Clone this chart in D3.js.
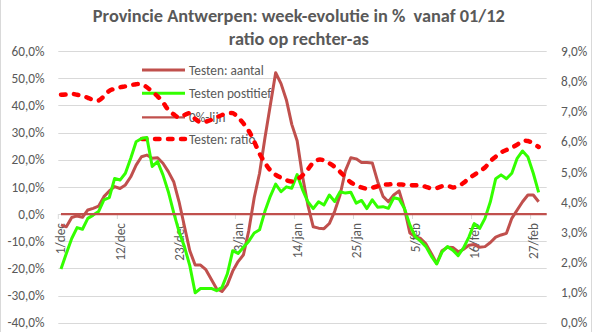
<!DOCTYPE html>
<html>
<head>
<meta charset="utf-8">
<script src="https://cdn.jsdelivr.net/npm/d3@7"></script>
<style>
  html, body { margin: 0; padding: 0; background: #fff; }
  svg { display: block; }
  text { font-family: Carlito, Lato, "Liberation Sans", Arial, sans-serif; fill: #595959; }
</style>
</head>
<body>
<svg id="chart" width="593" height="332"></svg>
<script>
// ---------- data ----------
const titleLines = ["Provincie Antwerpen: week-evolutie in %  vanaf 01/12", "ratio op rechter-as"];
const startDate = "2020-12-01";
const categoryCount = 91; // 1/dec .. 1/mar
const tickLabels = ["1/dec", "12/dec", "23/dec", "3/jan", "14/jan", "25/jan", "5/feb", "16/feb", "27/feb"];
const tickIndex = [0, 11, 22, 33, 44, 55, 66, 77, 88];
const leftTicks = [-40, -30, -20, -10, 0, 10, 20, 30, 40, 50, 60];
const rightTicks = [0, 1, 2, 3, 4, 5, 6, 7, 8, 9];
const seriesNames = ["Testen: aantal", "Testen postitief", "0%-lijn", "Testen: ratio"];

// week-evolutie in % (left axis)
const testenAantal = [
  -4, -4.7, -1.3, -0.7, -1.2, 1.5, 2.1, 2.9, 6.4, 8.5,
  10.1, 9.4, 10.7, 13.7, 18, 21.1, 21.7, 20.5, 20.7, 18.7,
  15.6, 11.9, 4.5, -4.5, -13.5, -18.8, -18.8, -20.5, -24, -27.5,
  -28.5, -26, -21, -17.5, -15, -6, 6, 15, 28, 40,
  52, 48, 42, 33, 27, 14, 3.3, -4.7, -5.2, -5.4,
  -3.5, 1, 7, 16, 20.7, 20.3, 19, 19, 18.8, 12,
  6.5, 4.5, 7, 8.5, 2, -7, -8.3, -9, -11, -14.5,
  -18.2, -13.5, -12.2, -12.3, -13.9, -13, -11.5, -11.2, -12.2, -12,
  -10.5, -8.5, -7.7, -7.1, -1.6, 1.5, 4.5, 7, 7, 4.5
];
const testenPositief = [
  -20.2, -14.5, -9, -5, -5.6, -1.6, -0.4, 0.9, 5.2, 6,
  13.1, 12.5, 15, 20.5, 26.6, 27.8, 28.2, 17.5, 19.3, 14.4,
  8.2, 0.5, -6.5, -12, -19, -29, -27.4, -27.4, -27.4, -28.2,
  -27, -22, -13.5, -14.5, -12.2, -10, -7, -5.8, 1, 6.5,
  11, 8.2, 10, 9.5, 14.5, 9, 4.5, 2, 4.5, 3.3,
  7, 4.6, 8.2, 7.7, 8, 4, 5, 2, 5.2, 2.5,
  2.7, 2.1, 6, 5.5, 2, -4, -8.3, -10, -12, -15.5,
  -18.4, -14, -12, -13.3, -15.3, -12.5, -8.5, -3.5, -5.3, -1.6,
  4.5, 13, 14.4, 13, 15, 20.5, 23.2, 21, 15, 8
];
const zeroLineValue = 0;
// ratio in % (right axis)
const testenRatio = [
  7.55, 7.56, 7.58, 7.55, 7.52, 7.45, 7.38, 7.36, 7.5, 7.68,
  7.75, 7.8, 7.83, 7.87, 7.9, 7.9, 7.8, 7.65, 7.5, 7.3,
  7.05, 6.9, 6.8, 6.88, 6.94, 6.75, 6.64, 6.66, 6.72, 6.8,
  6.88, 6.93, 6.94, 6.8, 6.6, 6.35, 6.0, 5.6, 5.3, 5.05,
  4.9, 4.8, 4.72, 4.68, 4.75, 4.88, 5.08, 5.3, 5.4, 5.38,
  5.28, 5.16, 5.0, 4.82, 4.65, 4.55, 4.48, 4.44, 4.47, 4.52,
  4.57, 4.58, 4.59, 4.58, 4.57, 4.56, 4.55, 4.55, 4.5, 4.45,
  4.46, 4.52, 4.54, 4.48, 4.52, 4.63, 4.78, 4.9, 5.02, 5.14,
  5.35, 5.5, 5.64, 5.72, 5.8, 5.9, 6.02, 6.02, 5.93, 5.82
];

// ---------- drawing ----------
const svg = d3.select("#chart");
const W = 593, H = 332;
const plot = { left: 58.3, right: 546.7, top: 51, bottom: 322.7 };

const colAantal = "#C0504D", colPos = "#33FF00", colZero = "#C0504D", colRatio = "#FF0000";
const gridCol = "#D9D9D9";

const x = d3.scaleBand().domain(d3.range(categoryCount)).range([plot.left, plot.right]).paddingInner(0).paddingOuter(0);
const cx = i => x(i) + x.bandwidth() / 2;
const yL = d3.scaleLinear().domain([-40, 60]).range([plot.bottom, plot.top]);
const yR = d3.scaleLinear().domain([0, 9]).range([plot.bottom, plot.top]);

const fmt = v => v.toFixed(1).replace(".", ",") + "%";

// chart border (sides)
svg.append("line").attr("x1", 0.5).attr("x2", 0.5).attr("y1", 0).attr("y2", H).attr("stroke", gridCol);
svg.append("line").attr("x1", 591.5).attr("x2", 591.5).attr("y1", 0).attr("y2", H).attr("stroke", gridCol);

// fit text helper
function fit(sel, target, size) {
  sel.attr("font-size", size);
  const w = sel.node().getComputedTextLength();
  if (w > 0) sel.attr("font-size", size * target / w);
  return sel;
}

// title
const t1 = svg.append("text").attr("x", 298.8).attr("y", 22).attr("text-anchor", "middle")
  .attr("font-weight", "bold").style("white-space", "pre").text(titleLines[0]);
t1.attr("xml:space", "preserve");
fit(t1, 412, 18);
const t2 = svg.append("text").attr("x", 298.8).attr("y", 45).attr("text-anchor", "middle")
  .attr("font-weight", "bold").text(titleLines[1]);
t2.attr("font-size", t1.attr("font-size"));

// gridlines (left axis)
svg.append("g").selectAll("line").data(leftTicks).join("line")
  .attr("x1", plot.left).attr("x2", plot.right)
  .attr("y1", d => Math.round(yL(d)) + 0.5).attr("y2", d => Math.round(yL(d)) + 0.5)
  .attr("stroke", gridCol).attr("stroke-width", 1);

// left axis labels
const axL = d3.axisLeft(yL).tickValues(leftTicks).tickFormat(fmt).tickSize(0).tickPadding(0);
const gL = svg.append("g").attr("transform", "translate(44.5,0)").call(axL);
gL.select(".domain").remove();
gL.selectAll("text").attr("fill", "#595959").attr("font-family", null).attr("font-size", 13.3);

// right axis labels
const axR = d3.axisRight(yR).tickValues(rightTicks).tickFormat(fmt).tickSize(0).tickPadding(0);
const gR = svg.append("g").attr("transform", "translate(561,0)").call(axR);
gR.select(".domain").remove();
gR.selectAll("text").attr("fill", "#595959").attr("font-family", null).attr("font-size", 13.3);

// x axis at 0%: tick marks and rotated labels
const y0 = yL(0);
svg.append("g").selectAll("line").data(tickIndex).join("line")
  .attr("x1", i => x(i)).attr("x2", i => x(i))
  .attr("y1", y0).attr("y2", y0 + 5)
  .attr("stroke", gridCol).attr("stroke-width", 1);
svg.append("g").selectAll("text").data(tickIndex).join("text")
  .attr("transform", (i) => `translate(${cx(i) + 4.5},${y0 + 9}) rotate(-90)`)
  .attr("text-anchor", "end").attr("font-size", 13.3)
  .text((i, k) => tickLabels[k]);

// legend (drawn beneath the series)
const legY = [70, 93.3, 117.3, 139];
const legStyles = [
  { c: colAantal, w: 3, dash: null },
  { c: colPos, w: 3, dash: null },
  { c: colZero, w: 2.25, dash: null },
  { c: colRatio, w: 4.5, dash: "4.5 8.5" }
];
const leg = svg.append("g");
seriesNames.forEach((n, k) => {
  const s = legStyles[k];
  const l = leg.append("line").attr("x1", 142).attr("x2", 185).attr("y1", legY[k]).attr("y2", legY[k])
    .attr("stroke", s.c).attr("stroke-width", s.w);
  if (s.dash) l.attr("stroke-dasharray", s.dash).attr("stroke-linecap", "round");
  leg.append("text").attr("x", 189).attr("y", legY[k]).attr("dy", "0.35em").attr("font-size", 13.3).text(n);
});

// series
const lineL = d3.line().x((d, i) => cx(i)).y(d => yL(d));
const lineR = d3.line().x((d, i) => cx(i)).y(d => yR(d)).curve(d3.curveCatmullRom.alpha(0.5));

svg.append("path").datum(testenAantal).attr("d", lineL).attr("fill", "none")
  .attr("stroke", colAantal).attr("stroke-width", 3).attr("stroke-linejoin", "round");
svg.append("path").datum(testenPositief).attr("d", lineL).attr("fill", "none")
  .attr("stroke", colPos).attr("stroke-width", 3).attr("stroke-linejoin", "round");
svg.append("line").attr("x1", cx(0)).attr("x2", plot.right).attr("y1", yL(zeroLineValue)).attr("y2", yL(zeroLineValue))
  .attr("stroke", colZero).attr("stroke-width", 2.25);
svg.append("path").datum(testenRatio).attr("d", lineR).attr("fill", "none")
  .attr("stroke", colRatio).attr("stroke-width", 4.5).attr("stroke-dasharray", "4.5 8.5")
  .attr("stroke-linecap", "round");
</script>
</body>
</html>
